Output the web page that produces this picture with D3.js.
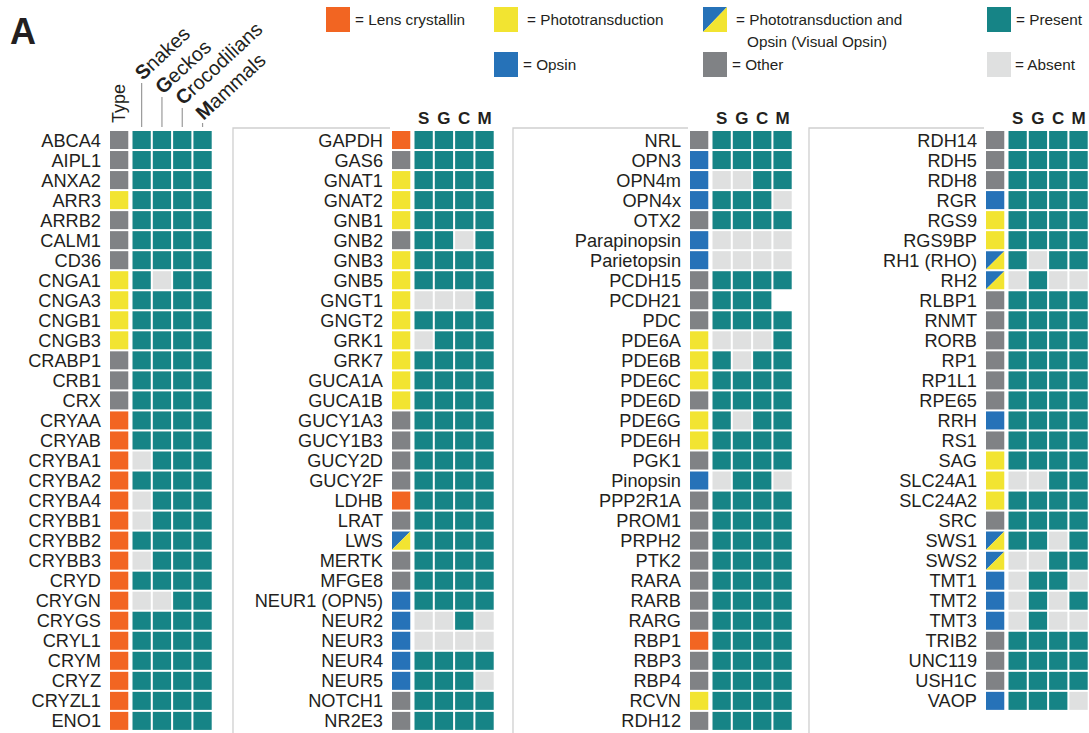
<!DOCTYPE html>
<html><head><meta charset="utf-8">
<script src="https://cdn.jsdelivr.net/npm/d3@7"></script>
<style>
body{margin:0;background:#fff;}
text{font-family:"Liberation Sans",Arial,Helvetica,sans-serif;fill:#231f20;}
</style>
</head><body>
<svg id="chart" width="1089" height="733"></svg>
<script>
// ---------------- DATA ----------------
const speciesNames = ["Snakes", "Geckos", "Crocodilians", "Mammals"];
const speciesCodes = ["S", "G", "C", "M"];

// gene type: lens, photo, visual (phototransduction + opsin), opsin, other
const genes1 = ["ABCA4","AIPL1","ANXA2","ARR3","ARRB2","CALM1","CD36","CNGA1","CNGA3","CNGB1","CNGB3","CRABP1","CRB1","CRX","CRYAA","CRYAB","CRYBA1","CRYBA2","CRYBA4","CRYBB1","CRYBB2","CRYBB3","CRYD","CRYGN","CRYGS","CRYL1","CRYM","CRYZ","CRYZL1","ENO1"];
const types1 = ["other","other","other","photo","other","other","other","photo","photo","photo","photo","other","other","other","lens","lens","lens","lens","lens","lens","lens","lens","lens","lens","lens","lens","lens","lens","lens","lens"];
const presence1 = ["1111","1111","1111","1111","1111","1111","1111","1011","1111","1111","1111","1111","1111","1111","1111","1111","0111","1111","0111","0111","1111","0111","1111","0011","1111","1111","1111","1111","1111","1111"];

const genes2 = ["GAPDH","GAS6","GNAT1","GNAT2","GNB1","GNB2","GNB3","GNB5","GNGT1","GNGT2","GRK1","GRK7","GUCA1A","GUCA1B","GUCY1A3","GUCY1B3","GUCY2D","GUCY2F","LDHB","LRAT","LWS","MERTK","MFGE8","NEUR1 (OPN5)","NEUR2","NEUR3","NEUR4","NEUR5","NOTCH1","NR2E3"];
const types2 = ["lens","other","photo","photo","photo","other","photo","photo","photo","photo","photo","photo","photo","photo","other","other","other","other","lens","other","visual","other","other","opsin","opsin","opsin","opsin","opsin","other","other"];
const presence2 = ["1111","1111","1111","1111","1111","1101","1111","1111","0001","1111","0111","1111","1111","1111","1111","1111","1111","1111","1111","1111","1111","1111","1111","1111","0010","0000","1111","1110","1111","1111"];

const genes3 = ["NRL","OPN3","OPN4m","OPN4x","OTX2","Parapinopsin","Parietopsin","PCDH15","PCDH21","PDC","PDE6A","PDE6B","PDE6C","PDE6D","PDE6G","PDE6H","PGK1","Pinopsin","PPP2R1A","PROM1","PRPH2","PTK2","RARA","RARB","RARG","RBP1","RBP3","RBP4","RCVN","RDH12"];
const types3 = ["other","opsin","opsin","opsin","other","opsin","opsin","other","other","other","photo","photo","photo","other","photo","photo","other","opsin","other","other","other","other","other","other","other","lens","other","other","photo","other"];
const presence3 = ["1111","1111","0011","1110","1111","0000","0000","1111","111-","1111","0001","1011","1111","1111","1011","1111","1111","0110","1111","1111","1111","1111","1111","1111","1111","1111","1111","1111","1111","1111"];

const genes4 = ["RDH14","RDH5","RDH8","RGR","RGS9","RGS9BP","RH1 (RHO)","RH2","RLBP1","RNMT","RORB","RP1","RP1L1","RPE65","RRH","RS1","SAG","SLC24A1","SLC24A2","SRC","SWS1","SWS2","TMT1","TMT2","TMT3","TRIB2","UNC119","USH1C","VAOP"];
const types4 = ["other","other","other","opsin","photo","photo","visual","visual","other","other","other","other","other","other","opsin","other","photo","photo","photo","other","visual","visual","opsin","opsin","opsin","other","other","other","opsin"];
const presence4 = ["1111","1111","1111","1111","1111","1111","1011","0100","1111","1111","1111","1111","1111","1111","1111","1111","1111","0011","1111","1111","1101","0011","0110","0101","0100","1111","1111","1111","1110"];

const legendLabels = [["= Lens crystallin"],["= Phototransduction"],["= Phototransduction and","Opsin (Visual Opsin)"],["= Present"],["= Opsin"],["= Other"],["= Absent"]];
const legendKeys = ["lens","photo","visual","present","opsin","other","absent"];

// ---------------- STYLE / LAYOUT ----------------
const colors = {lens:"#f26522", photo:"#f2e431", opsin:"#2672b8", other:"#808285", present:"#168486", absent:"#dfe0e0"};
const panelTypeX = [110, 392, 690, 986];
const panelBoxX = [null, 233, 513, 809];
// [swatch x, swatch y, text gap]
const legendPos = [[326,7,5],[494,7,9],[703,7,9],[987,7,5],[494,52,5],[703,52,5],[987,52,4]];
const speciesLineTop = [83, 97, 108, 123];

const svg = d3.select("#chart");
const panels = [
  {genes:genes1, types:types1, pres:presence1},
  {genes:genes2, types:types2, pres:presence2},
  {genes:genes3, types:types3, pres:presence3},
  {genes:genes4, types:types4, pres:presence4}
];

const y = d3.scaleBand().domain(d3.range(30)).range([130, 130 + 30*20.03]).paddingInner(0.1).paddingOuter(0.05);

function drawTypeCell(g, type, x0, y0, w, h){
  if (type === "visual") {
    g.append("polygon").attr("points", `${x0},${y0} ${x0+w},${y0} ${x0},${y0+h}`).attr("fill", colors.opsin);
    g.append("polygon").attr("points", `${x0+w},${y0} ${x0+w},${y0+h} ${x0},${y0+h}`).attr("fill", colors.photo);
  } else {
    g.append("rect").attr("x", x0).attr("y", y0).attr("width", w).attr("height", h).attr("fill", colors[type]);
  }
}

// Panel boxes
panelBoxX.forEach((bx, i) => {
  if (bx === null) return;
  svg.append("path").attr("d", `M${bx},733 V128 H${panelTypeX[i]-2}`).attr("fill","none").attr("stroke","#cfcfcf").attr("stroke-width",1.3);
});

panels.forEach((p, pi) => {
  const tx = panelTypeX[pi];
  const x = d3.scaleBand().domain(speciesCodes).range([tx + 22.5, tx + 22.5 + 79.2]).paddingInner(0.1).paddingOuter(0);
  const tw = x.bandwidth();
  const g = svg.append("g");
  p.genes.forEach((gene, ri) => {
    const y0 = y(ri), h = y.bandwidth();
    g.append("text").attr("x", tx - 9).attr("y", y0 + h/2).attr("dy", "0.36em")
      .attr("text-anchor", "end").attr("font-size", 18.2).text(gene);
    drawTypeCell(g, p.types[ri], tx, y0, tw, h);
    speciesCodes.forEach((sc, si) => {
      const v = p.pres[ri][si];
      if (v === "-") return;
      g.append("rect").attr("x", x(sc)).attr("y", y0).attr("width", tw).attr("height", h)
        .attr("fill", v === "1" ? colors.present : colors.absent);
    });
  });
  if (pi > 0) {
    speciesCodes.forEach(sc => {
      g.append("text").attr("x", x(sc) + tw/2).attr("y", 124).attr("text-anchor","middle")
        .attr("font-size", 17).attr("font-weight","bold").text(sc);
    });
  } else {
    // Type label
    g.append("text").attr("transform", `translate(${tx + tw/2 + 6},${123}) rotate(-90)`)
      .attr("font-size", 18).text("Type");
    speciesNames.forEach((nm, si) => {
      const cx = x(speciesCodes[si]) + tw/2;
      g.append("line").attr("x1", cx).attr("x2", cx).attr("y1", speciesLineTop[si]).attr("y2", 127)
        .attr("stroke", "#9a9a9a").attr("stroke-width", 1.2);
      const t = g.append("text").attr("transform", `translate(${cx + 1},${speciesLineTop[si] - 2}) rotate(-43)`)
        .attr("font-size", 20);
      t.append("tspan").attr("font-weight","bold").text(nm[0]);
      t.append("tspan").text(nm.slice(1));
    });
  }
});

// Panel letter
svg.append("text").attr("x", 10).attr("y", 44).attr("font-size", 36).attr("font-weight","bold").text("A");

// Legend
legendKeys.forEach((k, i) => {
  const [lx, ly, gap] = legendPos[i];
  const g = svg.append("g");
  drawTypeCell(g, k, lx, ly, 24, 25);
  legendLabels[i].forEach((line, li) => {
    g.append("text").attr("x", lx + 24 + gap + (li ? 11 : 0)).attr("y", ly + 12 + li*22).attr("dy","0.36em")
      .attr("font-size", 15.3).text(line);
  });
});
</script>
</body></html>
